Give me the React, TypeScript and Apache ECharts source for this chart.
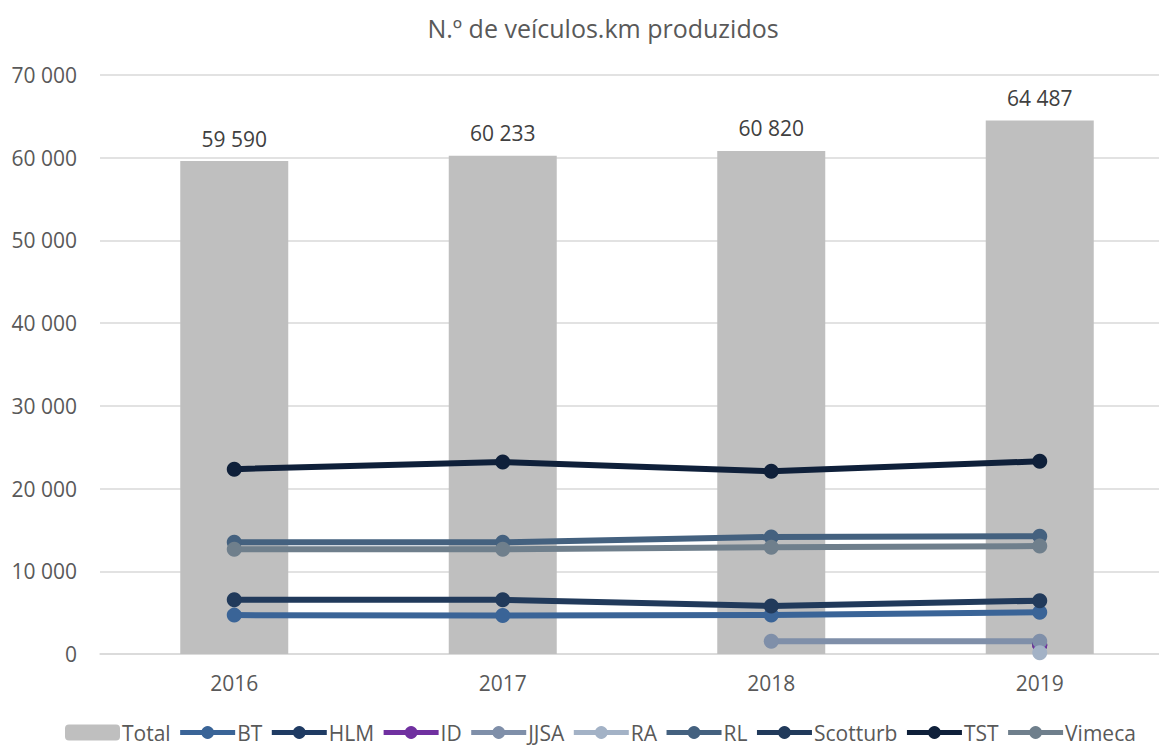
import React, { useEffect, useRef } from "react";
import * as echarts from "echarts";

const years = ["2016", "2017", "2018", "2019"];
const total = [59590, 60233, 60820, 64487];
const bt = [4700, 4650, 4720, 5050];
const hlm = [null, null, null, 1100];
const idS = [null, null, null, 1100];
const jjsa = [null, null, 1550, 1550];
const ra = [null, null, null, 150];
const rl = [13500, 13500, 14150, 14250];
const scotturb = [6550, 6550, 5800, 6450];
const tst = [22350, 23200, 22100, 23300];
const vimeca = [12650, 12650, 12900, 13050];

const yTicks = { min: 0, max: 70000, interval: 10000 };

const FONT = "'Open Sans', 'Noto Sans', sans-serif";
const fmt = (v: number) => String(Math.round(v)).replace(/\B(?=(\d{3})+(?!\d))/g, " ");

const lineSeries = [
  { name: "BT", data: bt, color: "#3a6497" },
  { name: "HLM", data: hlm, color: "#1f3b63" },
  { name: "ID", data: idS, color: "#7030a0" },
  { name: "JJSA", data: jjsa, color: "#7f8fa9" },
  { name: "RA", data: ra, color: "#a3b2c6" },
  { name: "RL", data: rl, color: "#44617f" },
  { name: "Scotturb", data: scotturb, color: "#213a5b" },
  { name: "TST", data: tst, color: "#0f203a" },
  { name: "Vimeca", data: vimeca, color: "#6f7f8c" },
];

export default function App() {
  const ref = useRef<HTMLDivElement>(null);
  useEffect(() => {
    if (!ref.current) return;
    const chart = echarts.init(ref.current, null, { renderer: "svg" });
    chart.setOption({
      animation: false,
      backgroundColor: "#ffffff",
      textStyle: { fontFamily: FONT },
      title: {
        text: "N.º de veículos.km produzidos",
        left: 598,
        top: 10,
        textAlign: "center",
        textStyle: { fontFamily: FONT, fontSize: 25, fontWeight: "normal", color: "#595959" },
      },
      legend: {
        left: 65,
        top: 722,
        padding: 0,
        itemWidth: 55,
        itemHeight: 16,
        itemGap: 7,
        lineStyle: { width: 5 },
        textStyle: { fontFamily: FONT, fontSize: 21, color: "#595959", padding: [0, 0, 0, -3] },
        data: ["Total", ...lineSeries.map((s) => s.name)],
      },
      grid: { left: 100, top: 75, width: 1074, height: 579, containLabel: false, outerBoundsMode: "none" },
      xAxis: {
        type: "category",
        data: years,
        axisLine: { lineStyle: { color: "#d9d9d9", width: 1.5 } },
        axisTick: { show: false },
        axisLabel: { color: "#595959", fontSize: 21, fontFamily: FONT, margin: 18 },
      },
      yAxis: {
        type: "value",
        min: yTicks.min,
        max: yTicks.max,
        interval: yTicks.interval,
        axisLine: { show: false },
        axisTick: { show: false },
        splitLine: { lineStyle: { color: "#d9d9d9", width: 1.5 } },
        axisLabel: { color: "#595959", fontSize: 21, fontFamily: FONT, margin: 23, formatter: fmt },
      },
      series: [
        {
          name: "Total",
          type: "bar",
          data: total,
          barWidth: 108,
          itemStyle: { color: "#bfbfbf" },
          label: {
            show: true,
            position: "top",
            distance: 12,
            color: "#404040",
            fontSize: 21,
            fontFamily: FONT,
            formatter: (p: any) => fmt(p.value),
          },
        },
        ...lineSeries.map((s) => ({
          name: s.name,
          type: "line",
          data: s.data,
          connectNulls: false,
          symbol: "circle",
          symbolSize: 15,
          itemStyle: { color: s.color },
          lineStyle: { color: s.color, width: 6 },
        })),
      ],
    });
    return () => chart.dispose();
  }, []);
  return (
    <div
      ref={ref}
      style={{ position: "fixed", left: 0, top: 0, width: 1159, height: 747 }}
    />
  );
}
